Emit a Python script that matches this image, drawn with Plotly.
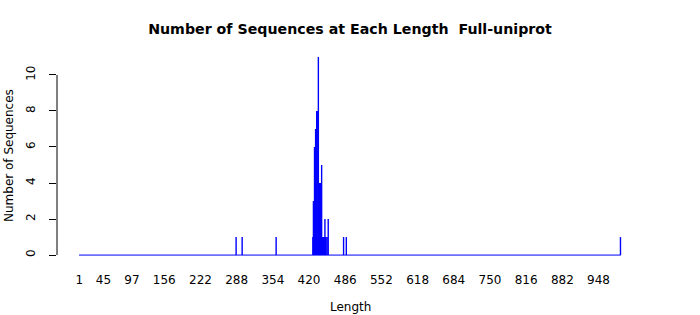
import plotly.graph_objects as go

# Observed sequence lengths and their counts (all other lengths have count 0)
lengths = [287, 298, 360,
           427, 428, 429, 430, 431, 432, 433, 434, 435, 436, 437, 438, 439, 440,
           441, 442, 443, 444, 445, 446, 447, 448, 449, 450, 451, 453, 455,
           483, 488, 988]
counts = [1, 1, 1,
          1, 3, 1, 6, 1, 7, 1, 8, 8, 1, 11, 1, 4, 1,
          4, 1, 5, 1, 1, 1, 1, 1, 2, 1, 1, 1, 2,
          1, 1, 1]
min_length = 1
max_length = 988

tick_labels = [1, 45, 97, 156, 222, 288, 354, 420, 486, 552, 618, 684, 750, 816, 882, 948]
y_ticks = [0, 2, 4, 6, 8, 10]

title_text = "Number of Sequences at Each Length  Full-uniprot"

# vertical bar segments (bars are thinner than a pixel at this scale)
seg_x, seg_y = [], []
for L, c in zip(lengths, counts):
    seg_x += [L, L, None]
    seg_y += [0, c, None]

fig = go.Figure()
# baseline drawn by zero-height bar borders in the original
fig.add_trace(go.Scatter(
    x=[min_length - 0.5, max_length + 0.5], y=[0, 0], mode="lines",
    line=dict(color="#0000FF", width=1), hoverinfo="skip", showlegend=False,
))
fig.add_trace(go.Scatter(
    x=seg_x, y=seg_y, mode="lines",
    line=dict(color="#0000FF", width=1.4), showlegend=False,
))

font = "DejaVu Sans, sans-serif"
fig.update_layout(
    width=700, height=315,
    margin=dict(l=57, r=57, t=49, b=52),
    paper_bgcolor="white", plot_bgcolor="white",
    font=dict(family=font, size=12, color="black"),
    title=dict(text="<b>" + title_text + "</b>", x=0.5, xanchor="center",
               y=1 - 29 / 315, yanchor="middle",
               font=dict(family=font, size=14.2, color="black")),
    xaxis=dict(
        range=[-39.67, 1029.1], automargin=False,
        tickmode="array", tickvals=tick_labels, ticktext=[str(t) for t in tick_labels],
        ticks="outside", ticklen=6, tickcolor="rgba(0,0,0,0)",
        showline=False, showgrid=False, zeroline=False,
    ),
    yaxis=dict(
        range=[-0.44, 11.44], automargin=False,
        tickmode="array", tickvals=y_ticks, ticktext=[str(t) for t in y_ticks],
        ticks="outside", ticklen=7, tickcolor="black", tickwidth=1,
        tickangle=-90, ticklabelstandoff=9,
        showline=False, showgrid=False, zeroline=False,
    ),
    shapes=[dict(type="line", xref="paper", yref="y", x0=0, x1=0,
                 y0=y_ticks[0], y1=y_ticks[-1],
                 line=dict(color="black", width=1))],
    annotations=[
        dict(text="Length", xref="paper", yref="paper", x=0.5, y=0,
             xanchor="center", yanchor="middle", yshift=-44, showarrow=False,
             font=dict(size=12)),
        dict(text="Number of Sequences", xref="paper", yref="paper", x=0, y=0.5,
             xanchor="center", yanchor="middle", xshift=-48, textangle=-90,
             showarrow=False, font=dict(size=12)),
    ],
)

fig.write_html("out.html")
